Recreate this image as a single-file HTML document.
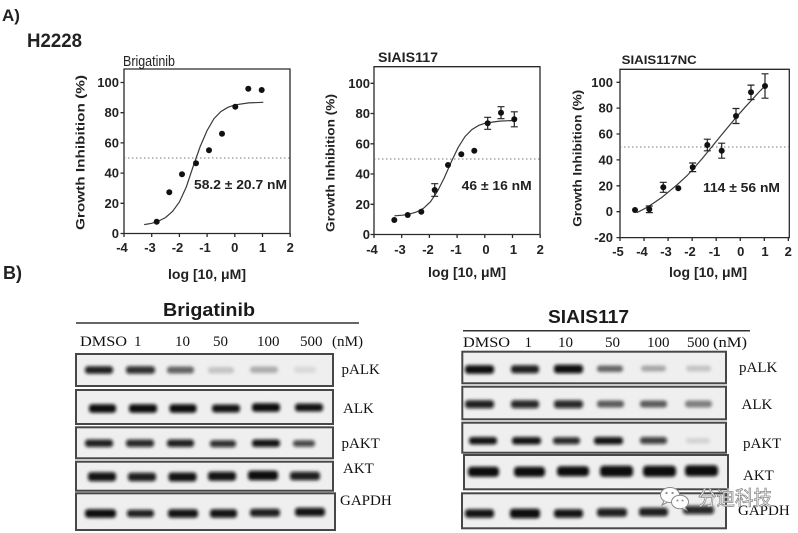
<!DOCTYPE html>
<html><head><meta charset="utf-8"><style>
html,body{margin:0;padding:0;background:#fff;}
svg{display:block;}
.t{font-family:"Liberation Sans",Arial,sans-serif;font-weight:bold;fill:#222;}
.s{font-family:"Liberation Serif","Times New Roman",serif;fill:#111;}
.ax{stroke:#2a2a2a;stroke-width:1.3;fill:none;}
.cv{stroke:#3a3a3a;stroke-width:1.2;fill:none;}
.dt{stroke:#777;stroke-width:1;stroke-dasharray:1.5,2.5;}
.eb{stroke:#222;stroke-width:1.2;fill:none;}
.box{fill:#efefef;stroke:#474747;stroke-width:2;}
</style></head><body>
<svg width="798" height="533" viewBox="0 0 798 533" xmlns="http://www.w3.org/2000/svg">
<defs>
<filter id="bl" x="-30%" y="-100%" width="160%" height="300%"><feGaussianBlur stdDeviation="1.5"/></filter>
</defs>
<rect width="798" height="533" fill="#fff"/>

<!-- Panel labels -->
<text class="t" x="2" y="21" font-size="17">A)</text>
<text class="t" x="27" y="47" font-size="19" textLength="55" lengthAdjust="spacingAndGlyphs">H2228</text>
<text class="t" x="3" y="279" font-size="18">B)</text>

<!-- ===== Chart 1 ===== -->
<text x="123" y="66" font-size="14.5" font-family="'Liberation Sans',Arial,sans-serif" fill="#222" textLength="52" lengthAdjust="spacingAndGlyphs">Brigatinib</text>
<path class="ax" d="M124,69 H290 V233.5 H124 Z"/>
<path class="ax" d="M120.5,233.5H124M120.5,203.3H124M120.5,173.1H124M120.5,142.9H124M120.5,112.7H124M120.5,82.5H124"/>
<path class="ax" d="M124,233.5V237M151.7,233.5V237M179.4,233.5V237M207.1,233.5V237M234.8,233.5V237M262.5,233.5V237M290.2,233.5V237"/>
<g class="t" font-size="13" text-anchor="end">
<text x="119" y="238">0</text><text x="119" y="207.8">20</text><text x="119" y="177.6">40</text>
<text x="119" y="147.4">60</text><text x="119" y="117.2">80</text><text x="119" y="87">100</text>
</g>
<g class="t" font-size="13" text-anchor="middle">
<text x="122" y="252">-4</text><text x="150" y="252">-3</text><text x="177.5" y="252">-2</text>
<text x="205" y="252">-1</text><text x="234.8" y="252">0</text><text x="262.5" y="252">1</text><text x="290.2" y="252">2</text>
</g>
<text class="t" font-size="14" x="207" y="279" text-anchor="middle" textLength="78" lengthAdjust="spacingAndGlyphs">log [10, μM]</text>
<text class="t" font-size="12" transform="translate(84.5,152.5) rotate(-90)" text-anchor="middle" textLength="155" lengthAdjust="spacingAndGlyphs">Growth Inhibition (%)</text>
<line class="dt" x1="124" y1="158" x2="290" y2="158"/>
<polyline class="cv" points="144.2,224.6 151.7,223.3 158.6,221.1 165.6,217.5 172.5,211.5 179.4,202 186.3,187 193.3,166 200.2,146.5 207.1,130.5 214.0,118.6 221.0,111.5 227.9,107.3 234.8,104.9 248.7,102.9 263.3,102.3"/>
<g fill="#111">
<circle cx="156.7" cy="221.7" r="3"/><circle cx="169.3" cy="192.3" r="3"/><circle cx="182" cy="174.3" r="3"/>
<circle cx="196" cy="163.3" r="3"/><circle cx="209" cy="150.3" r="3"/><circle cx="222" cy="133.7" r="3"/>
<circle cx="235.3" cy="106.7" r="3"/><circle cx="248.3" cy="88.7" r="3"/><circle cx="261.7" cy="90" r="3"/>
</g>
<text class="t" font-size="13" x="194" y="189" textLength="93" lengthAdjust="spacingAndGlyphs">58.2 ± 20.7 nM</text>

<!-- ===== Chart 2 ===== -->
<text class="t" x="378" y="62" font-size="14" textLength="60" lengthAdjust="spacingAndGlyphs">SIAIS117</text>
<path class="ax" d="M374,66.7 H540 V234.5 H374 Z"/>
<path class="ax" d="M370.5,234.5H374M370.5,204.3H374M370.5,174H374M370.5,143.8H374M370.5,113.5H374M370.5,83.3H374"/>
<path class="ax" d="M374,234.5V238M401.7,234.5V238M429.4,234.5V238M457.1,234.5V238M484.8,234.5V238M512.5,234.5V238M540.2,234.5V238"/>
<g class="t" font-size="13" text-anchor="end">
<text x="370" y="239">0</text><text x="370" y="208.8">20</text><text x="370" y="178.5">40</text>
<text x="370" y="148.3">60</text><text x="370" y="118">80</text><text x="370" y="87.8">100</text>
</g>
<g class="t" font-size="13" text-anchor="middle">
<text x="372" y="254">-4</text><text x="400" y="254">-3</text><text x="428" y="254">-2</text>
<text x="456" y="254">-1</text><text x="486" y="254">0</text><text x="513.5" y="254">1</text><text x="540.2" y="254">2</text>
</g>
<text class="t" font-size="14" x="467" y="277" text-anchor="middle" textLength="78" lengthAdjust="spacingAndGlyphs">log [10, μM]</text>
<text class="t" font-size="11.5" transform="translate(334.5,163) rotate(-90)" text-anchor="middle" textLength="138" lengthAdjust="spacingAndGlyphs">Growth Inhibition (%)</text>
<line class="dt" x1="374" y1="159" x2="540" y2="159"/>
<polyline class="cv" points="394.4,215.8 402.7,215.2 409.6,214.1 416.6,212.0 423.5,208.3 430.4,201.8 437.3,191.6 444.3,177.8 451.2,162.0 458.1,147.6 465.0,136.6 472.0,129.5 478.9,125.3 485.8,123.0 499.7,121.1 513.5,120.5"/>
<g class="eb">
<path d="M434.7,183.7V196.3M431.2,183.7H438.2M431.2,196.3H438.2"/>
<path d="M487.7,117.3V129.3M484.2,117.3H491.2M484.2,129.3H491.2"/>
<path d="M501,106.7V118.7M497.5,106.7H504.5M497.5,118.7H504.5"/>
<path d="M514.3,111.8V126.8M510.8,111.8H517.8M510.8,126.8H517.8"/>
</g>
<g fill="#111">
<circle cx="394.3" cy="220" r="3"/><circle cx="407.7" cy="215" r="3"/><circle cx="421.3" cy="211.7" r="3"/>
<circle cx="434.7" cy="190" r="3"/><circle cx="448" cy="165" r="3"/><circle cx="461.3" cy="154.3" r="3"/>
<circle cx="474.3" cy="150.7" r="3"/><circle cx="487.7" cy="123.3" r="3"/><circle cx="501" cy="112.7" r="3"/>
<circle cx="514.3" cy="119.3" r="3"/>
</g>
<text class="t" font-size="13" x="461.7" y="190" textLength="70" lengthAdjust="spacingAndGlyphs">46 ± 16 nM</text>

<!-- ===== Chart 3 ===== -->
<text class="t" x="621.7" y="64" font-size="12" textLength="75" lengthAdjust="spacingAndGlyphs">SIAIS117NC</text>
<path class="ax" d="M620,69.3 H789.3 V237.6 H620 Z"/>
<path class="ax" d="M616.5,237.6H620M616.5,211.7H620M616.5,185.8H620M616.5,159.9H620M616.5,134H620M616.5,108.1H620M616.5,82.3H620"/>
<path class="ax" d="M620,237.6V241M644.05,237.6V241M668.1,237.6V241M692.15,237.6V241M716.2,237.6V241M740.25,237.6V241M764.3,237.6V241M788.35,237.6V241"/>
<g class="t" font-size="13" text-anchor="end">
<text x="613" y="242.1">-20</text><text x="613" y="216.2">0</text><text x="613" y="190.3">20</text>
<text x="613" y="164.4">40</text><text x="613" y="138.5">60</text><text x="613" y="112.6">80</text><text x="613" y="86.8">100</text>
</g>
<g class="t" font-size="13" text-anchor="middle">
<text x="618" y="256">-5</text><text x="642" y="256">-4</text><text x="666" y="256">-3</text><text x="690" y="256">-2</text>
<text x="714.5" y="256">-1</text><text x="740.7" y="256">0</text><text x="765" y="256">1</text><text x="788.3" y="256">2</text>
</g>
<text class="t" font-size="14" x="708" y="277" text-anchor="middle" textLength="78" lengthAdjust="spacingAndGlyphs">log [10, μM]</text>
<text class="t" font-size="11.5" transform="translate(581.5,158.3) rotate(-90)" text-anchor="middle" textLength="137" lengthAdjust="spacingAndGlyphs">Growth Inhibition (%)</text>
<line class="dt" x1="620" y1="147" x2="789" y2="147"/>
<polyline class="cv" points="636.7,212.7 645,208.5 653.3,203.3 661.7,197.5 670,190.7 678.3,183.7 686.7,176 695,167 703.3,157.3 711.7,147 720,136.7 728.3,126.7 736.7,116.7 745,107.3 753.3,98.3 759,92 765,86"/>
<g class="eb">
<path d="M649.3,206V212.6M645.8,206H652.8M645.8,212.6H652.8"/>
<path d="M663.3,182.3V192.3M659.8,182.3H666.8M659.8,192.3H666.8"/>
<path d="M692.7,163V171.6M689.2,163H696.2M689.2,171.6H696.2"/>
<path d="M707.3,139.2V150.8M703.8,139.2H710.8M703.8,150.8H710.8"/>
<path d="M721.7,143.2V158.2M718.2,143.2H725.2M718.2,158.2H725.2"/>
<path d="M736,108.5V123.5M732.5,108.5H739.5M732.5,123.5H739.5"/>
<path d="M751,85.1V99.5M747.5,85.1H754.5M747.5,99.5H754.5"/>
<path d="M765,73.8V98.2M761.5,73.8H768.5M761.5,98.2H768.5"/>
</g>
<g fill="#111">
<circle cx="635" cy="210" r="3"/><circle cx="649.3" cy="209.3" r="3"/><circle cx="663.3" cy="187.3" r="3"/>
<circle cx="678.3" cy="188.3" r="3"/><circle cx="692.7" cy="167.3" r="3"/><circle cx="707.3" cy="145" r="3"/>
<circle cx="721.7" cy="150.7" r="3"/><circle cx="736" cy="116" r="3"/><circle cx="751" cy="92.3" r="3"/>
<circle cx="765" cy="86" r="3"/>
</g>
<text class="t" font-size="13" x="703" y="192" textLength="77" lengthAdjust="spacingAndGlyphs">114 ± 56 nM</text>

<!-- ===== Blot: Brigatinib ===== -->
<text class="t" x="163" y="316" font-size="18" textLength="92" lengthAdjust="spacingAndGlyphs" style="fill:#1a1a1a">Brigatinib</text>
<line x1="76" y1="323" x2="359" y2="323" stroke="#333" stroke-width="1.5"/>
<g class="s" font-size="15">
<text x="80" y="346" textLength="47" lengthAdjust="spacingAndGlyphs">DMSO</text>
<text x="134" y="346">1</text>
<text x="175" y="346">10</text>
<text x="213" y="346">50</text>
<text x="257" y="346">100</text>
<text x="300" y="346">500</text>
<text x="332" y="346" textLength="31" lengthAdjust="spacingAndGlyphs">(nM)</text>
<text x="341.5" y="374">pALK</text>
<text x="343" y="413">ALK</text>
<text x="341.5" y="448">pAKT</text>
<text x="343" y="473">AKT</text>
<text x="340" y="505">GAPDH</text>
</g>
<rect class="box" x="76" y="354" width="257" height="32"/>
<rect class="box" x="76" y="390" width="257" height="34"/>
<rect class="box" x="76" y="427.3" width="257" height="31"/>
<rect class="box" x="76" y="461.7" width="257" height="29"/>
<rect class="box" x="76" y="493.3" width="259" height="36.7"/>
<g filter="url(#bl)" fill="#0a0a0a">
<!-- pALK -->
<rect x="85" y="366.3" width="28" height="7.5" rx="3" fill-opacity="0.92"/>
<rect x="126" y="366.3" width="29" height="7.5" rx="3" fill-opacity="0.85"/>
<rect x="167" y="366.5" width="27" height="7" rx="3" fill-opacity="0.58"/>
<rect x="208" y="367" width="26" height="6.5" rx="3" fill-opacity="0.18"/>
<rect x="250" y="366.5" width="28" height="6.5" rx="3" fill-opacity="0.28"/>
<rect x="294" y="366.5" width="22" height="6.5" rx="3" fill-opacity="0.09"/>
<!-- ALK -->
<rect x="89" y="404.3" width="27" height="8.5" rx="3" fill-opacity="1"/>
<rect x="129" y="404.3" width="28" height="8.5" rx="3" fill-opacity="1"/>
<rect x="169.5" y="404.3" width="27" height="8.5" rx="3" fill-opacity="1"/>
<rect x="212" y="404.5" width="28" height="8" rx="3" fill-opacity="0.97"/>
<rect x="252" y="403.3" width="28" height="8.5" rx="3" fill-opacity="1"/>
<rect x="295" y="403.5" width="28" height="8" rx="3" fill-opacity="0.97"/>
<!-- pAKT -->
<rect x="85" y="439.5" width="28" height="7.5" rx="3" fill-opacity="0.92"/>
<rect x="126" y="439.5" width="28" height="7.5" rx="3" fill-opacity="0.88"/>
<rect x="167" y="439.5" width="27" height="7.5" rx="3" fill-opacity="0.92"/>
<rect x="210" y="440.3" width="26" height="7" rx="3" fill-opacity="0.85"/>
<rect x="252" y="439.5" width="28" height="7.5" rx="3" fill-opacity="0.97"/>
<rect x="293" y="440.3" width="22" height="6.5" rx="3" fill-opacity="0.75"/>
<!-- AKT -->
<rect x="88" y="472.3" width="28" height="9" rx="3" fill-opacity="0.97"/>
<rect x="128" y="472.8" width="28" height="8.5" rx="3" fill-opacity="0.92"/>
<rect x="168.5" y="472.5" width="28" height="9" rx="3" fill-opacity="0.97"/>
<rect x="208" y="471.8" width="28" height="9" rx="3" fill-opacity="0.97"/>
<rect x="248" y="470.8" width="30" height="9.5" rx="3" fill-opacity="1"/>
<rect x="290" y="471.8" width="30" height="8.5" rx="3" fill-opacity="0.92"/>
<!-- GAPDH -->
<rect x="85" y="509.3" width="31" height="8.5" rx="3" fill-opacity="1"/>
<rect x="127" y="509.8" width="27" height="7.5" rx="3" fill-opacity="0.92"/>
<rect x="168" y="509.3" width="30" height="8.5" rx="3" fill-opacity="0.97"/>
<rect x="210" y="509.3" width="27" height="8.5" rx="3" fill-opacity="0.97"/>
<rect x="250" y="508.8" width="30" height="8" rx="3" fill-opacity="0.92"/>
<rect x="295" y="507.8" width="30" height="8.5" rx="3" fill-opacity="0.97"/>
</g>

<!-- ===== Blot: SIAIS117 ===== -->
<text class="t" x="548" y="323" font-size="18" textLength="81" lengthAdjust="spacingAndGlyphs" style="fill:#1a1a1a">SIAIS117</text>
<line x1="463" y1="330.7" x2="750" y2="330.7" stroke="#333" stroke-width="1.5"/>
<g class="s" font-size="15">
<text x="463" y="347" textLength="47" lengthAdjust="spacingAndGlyphs">DMSO</text>
<text x="524.5" y="347">1</text>
<text x="558" y="347">10</text>
<text x="605" y="347">50</text>
<text x="647" y="347">100</text>
<text x="687" y="347">500</text>
<text x="713" y="347" textLength="34" lengthAdjust="spacingAndGlyphs">(nM)</text>
<text x="739" y="372">pALK</text>
<text x="741.5" y="409">ALK</text>
<text x="743" y="448">pAKT</text>
<text x="743" y="480">AKT</text>
<text x="738" y="515">GAPDH</text>
</g>
<rect class="box" x="462.3" y="351.7" width="263.7" height="31.6"/>
<rect class="box" x="462.3" y="386.7" width="263.7" height="32.6"/>
<rect class="box" x="462.3" y="422.7" width="263.7" height="30"/>
<rect class="box" x="464" y="455" width="264" height="34.3"/>
<rect class="box" x="462" y="493.3" width="264" height="35"/>
<g filter="url(#bl)" fill="#0a0a0a">
<!-- pALK -->
<rect x="465" y="365.3" width="29" height="8.5" rx="3" fill-opacity="1"/>
<rect x="511" y="365.3" width="28" height="8" rx="3" fill-opacity="0.92"/>
<rect x="554" y="364.8" width="29" height="8.5" rx="3" fill-opacity="1"/>
<rect x="597" y="365.5" width="26" height="6.5" rx="3" fill-opacity="0.58"/>
<rect x="641" y="365.5" width="25" height="6" rx="3" fill-opacity="0.3"/>
<rect x="686" y="365.5" width="25" height="6" rx="3" fill-opacity="0.18"/>
<!-- ALK -->
<rect x="465" y="400.3" width="29" height="8" rx="3" fill-opacity="0.92"/>
<rect x="511" y="400.3" width="28" height="8" rx="3" fill-opacity="0.88"/>
<rect x="554" y="400.3" width="29" height="8" rx="3" fill-opacity="0.88"/>
<rect x="597" y="400.5" width="27" height="7" rx="3" fill-opacity="0.62"/>
<rect x="640" y="400.5" width="27" height="7" rx="3" fill-opacity="0.62"/>
<rect x="685" y="400.5" width="27" height="7" rx="3" fill-opacity="0.47"/>
<!-- pAKT -->
<rect x="469" y="437" width="28" height="7.5" rx="3" fill-opacity="0.97"/>
<rect x="512" y="437" width="29" height="7.5" rx="3" fill-opacity="0.97"/>
<rect x="553" y="437.3" width="27" height="7" rx="3" fill-opacity="0.88"/>
<rect x="594" y="437" width="29" height="7.5" rx="3" fill-opacity="0.97"/>
<rect x="640" y="437" width="27" height="7" rx="3" fill-opacity="0.78"/>
<rect x="686" y="438" width="24" height="5.5" rx="3" fill-opacity="0.12"/>
<!-- AKT -->
<rect x="468" y="466.8" width="31" height="10" rx="3.5" fill-opacity="1"/>
<rect x="514" y="466.8" width="31" height="10" rx="3.5" fill-opacity="1"/>
<rect x="557" y="466.3" width="32" height="10" rx="3.5" fill-opacity="1"/>
<rect x="600" y="465.8" width="33" height="11" rx="3.5" fill-opacity="1"/>
<rect x="643" y="465.8" width="33" height="11" rx="3.5" fill-opacity="1"/>
<rect x="685" y="465.3" width="33" height="11" rx="3.5" fill-opacity="1"/>
<!-- GAPDH -->
<rect x="465" y="509.3" width="29" height="8.5" rx="3" fill-opacity="0.97"/>
<rect x="510" y="508.8" width="30" height="9.5" rx="3" fill-opacity="1"/>
<rect x="554" y="509.3" width="29" height="8.5" rx="3" fill-opacity="0.97"/>
<rect x="597" y="508.3" width="30" height="8.5" rx="3" fill-opacity="0.92"/>
<rect x="639" y="507.8" width="29" height="8.5" rx="3" fill-opacity="0.92"/>
<rect x="683" y="505.8" width="31" height="8.5" rx="3" fill-opacity="0.88"/>
</g>

<!-- Watermark -->
<g stroke="#8a8a8a" stroke-width="1" fill="#fff">
<ellipse cx="670" cy="495" rx="9.5" ry="7.5"/>
<path d="M664,501 l-2,4 l5,-2.5"/>
<ellipse cx="680" cy="502" rx="8.5" ry="6.8"/>
<path d="M685,507 l2,3.5 l-4.5,-2"/>
</g>
<g fill="#8a8a8a">
<circle cx="666.5" cy="493" r="1.1"/><circle cx="672.5" cy="493" r="1.1"/>
<circle cx="677.5" cy="500.5" r="1"/><circle cx="682.5" cy="500.5" r="1"/>
</g>
<text x="698" y="505" font-size="20" font-family="'Liberation Sans','Noto Sans CJK SC',sans-serif" fill="#fff" stroke="#8a8a8a" stroke-width="0.8" textLength="74" lengthAdjust="spacingAndGlyphs">分迪科技</text>
</svg>
</body></html>
